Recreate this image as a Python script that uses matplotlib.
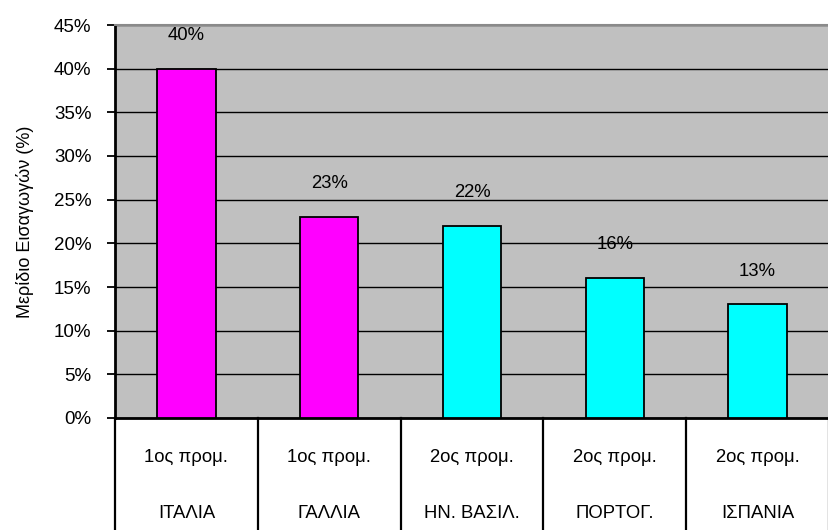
import matplotlib
matplotlib.use("Agg")
import matplotlib.pyplot as plt
import matplotlib.transforms as mtransforms

countries = ["ΙΤΑΛΙΑ", "ΓΑΛΛΙΑ", "ΗΝ. ΒΑΣΙΛ.", "ΠΟΡΤΟΓ.", "ΙΣΠΑΝΙΑ"]
groups = ["1ος προμ.", "1ος προμ.", "2ος προμ.", "2ος προμ.", "2ος προμ."]
values = [40, 23, 22, 16, 13]
labels = ["40%", "23%", "22%", "16%", "13%"]
yticks = [0, 5, 10, 15, 20, 25, 30, 35, 40, 45]
colors = ["#FF00FF", "#FF00FF", "#00FFFF", "#00FFFF", "#00FFFF"]

plt.rcParams['font.family'] = ['Liberation Sans', 'DejaVu Sans']

W, H = 829, 530
fig = plt.figure(figsize=(W / 100, H / 100), dpi=100)
ax = fig.add_axes([115 / W, (H - 418) / H, (W - 115) / W, (418 - 25) / H])
ax.set_facecolor("#C0C0C0")

x = list(range(len(values)))
ax.bar(x, values, width=0.41, color=colors, edgecolor="black", linewidth=1.3, zorder=3)
for xi, v, lab in zip(x, values, labels):
    ax.annotate(lab, (xi, v), xytext=(0, 24), textcoords="offset points",
                ha="center", va="center", fontsize=13.3, zorder=4)

ax.set_xlim(-0.5, len(values) - 0.5)
ax.set_ylim(0, 45)
ax.set_yticks(yticks)
ax.set_yticklabels([f"{t}%" for t in yticks], fontsize=13.5)
ax.yaxis.grid(True, color="black", linewidth=1.0, zorder=1)
ax.set_axisbelow(True)
ax.tick_params(axis="y", length=6, width=1.3, direction="out", pad=11)
ax.set_xticks([])
ax.spines["left"].set_linewidth(2)
ax.spines["bottom"].set_linewidth(2)
ax.spines["top"].set_color("#8a8a8a")
ax.spines["top"].set_linewidth(1.5)
ax.spines["right"].set_visible(False)
ax.set_ylabel("Μερίδιο Εισαγωγών (%)", fontsize=13, labelpad=14)

trans = mtransforms.blended_transform_factory(ax.transData, ax.transAxes)
axh_px = 418 - 25
for b in range(len(values) + 1):
    ax.plot([b - 0.5, b - 0.5], [0, -112 / axh_px], transform=trans,
            color="black", linewidth=1.6, clip_on=False)
for xi, g, c in zip(x, groups, countries):
    ax.text(xi, -40 / axh_px, g, transform=trans, ha="center", va="center", fontsize=13.3)
    ax.text(xi, -95 / axh_px, c, transform=trans, ha="center", va="center", fontsize=13.3)

fig.savefig("out.png", dpi=100)
